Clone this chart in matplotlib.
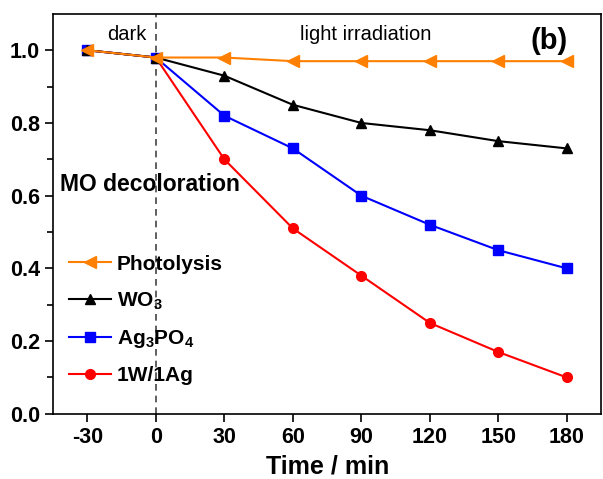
import numpy as np
import matplotlib.pyplot as plt

plt.rcParams['font.family'] = ['Liberation Sans', 'DejaVu Sans']
plt.rcParams['mathtext.fontset'] = 'custom'
plt.rcParams['mathtext.rm'] = 'Liberation Sans:bold'
plt.rcParams['mathtext.bf'] = 'Liberation Sans:bold'
plt.rcParams['axes.unicode_minus'] = False

time = [-30, 0, 30, 60, 90, 120, 150, 180]
photolysis = [1.0, 0.98, 0.98, 0.97, 0.97, 0.97, 0.97, 0.97]
wo3 = [1.0, 0.98, 0.93, 0.85, 0.80, 0.78, 0.75, 0.73]
ag3po4 = [1.0, 0.98, 0.82, 0.73, 0.60, 0.52, 0.45, 0.40]
w1ag1 = [1.0, 0.98, 0.70, 0.51, 0.38, 0.25, 0.17, 0.10]

fig = plt.figure(figsize=(6.03, 4.79), dpi=100)
ax = fig.add_axes([0.088, 0.136, 0.909, 0.835])

ax.axvline(0, color='#444444', ls='--', lw=1.2, dashes=(4, 3))

ax.plot(time, w1ag1, color='#ff0000', marker='o', ms=7, lw=1.5, label='1W/1Ag')
ax.plot(time, ag3po4, color='#0000ff', marker='s', ms=6.5, lw=1.5, label='Ag$_3$PO$_4$')
ax.plot(time, wo3, color='black', marker='^', ms=7.5, lw=1.5, label='WO$_3$')
ax.plot(time, photolysis, color='#ff8000', marker='<', ms=8, lw=1.5, label='Photolysis')

ax.set_xlim(-45, 195)
ax.set_ylim(0, 1.1)
ax.set_xticks(time)
ax.set_yticks(np.arange(0, 1.01, 0.2))
ax.set_yticks(np.arange(0.1, 1.1, 0.2), minor=True)
ax.tick_params(axis='both', direction='out', length=6, width=1.2, labelsize=15.5)
ax.tick_params(axis='y', which='minor', direction='out', length=4, width=1.2)
for lab in ax.get_xticklabels() + ax.get_yticklabels():
    lab.set_fontweight('bold')
for sp in ax.spines.values():
    sp.set_linewidth(1.2)

ax.set_xlabel('Time / min', fontsize=18, fontweight='bold', labelpad=5)

ax.text(-12.5, 1.043, 'dark', fontsize=14.5, ha='center', va='center')
ax.text(92, 1.043, 'light irradiation', fontsize=14.5, ha='center', va='center')
ax.text(172, 1.025, '(b)', fontsize=21, fontweight='bold', ha='center', va='center')
ax.text(-42, 0.631, 'MO decoloration', fontsize=16.5, fontweight='bold', ha='left', va='center')

h, l = ax.get_legend_handles_labels()
leg = ax.legend(h[::-1], l[::-1], loc='lower left', bbox_to_anchor=(-0.005, 0.025),
                frameon=False, handlelength=2.0, handletextpad=0.3,
                labelspacing=0.78, prop={'weight': 'bold', 'size': 15})

fig.savefig('out.png', dpi=100)
